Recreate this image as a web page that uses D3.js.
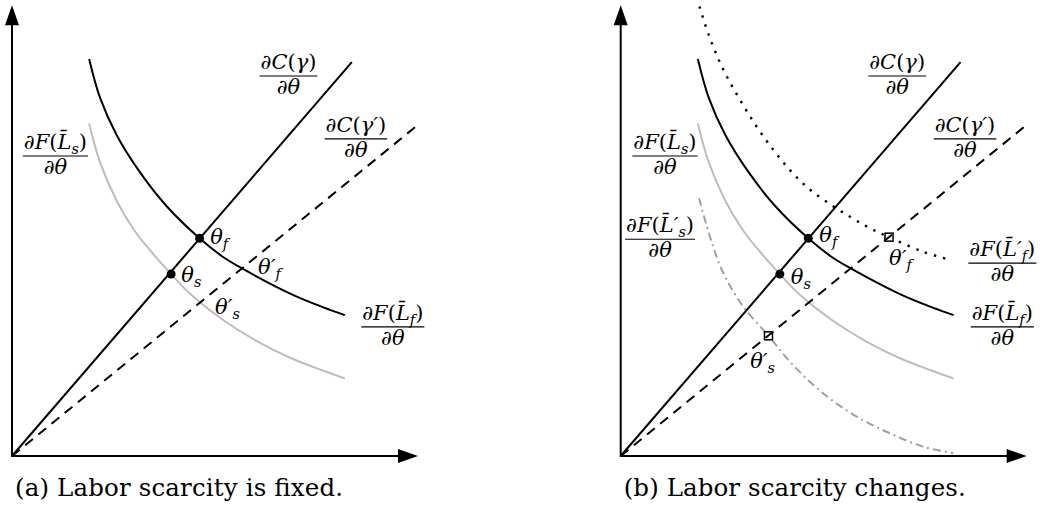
<!DOCTYPE html>
<html>
<head>
<meta charset="utf-8">
<script src="https://cdn.jsdelivr.net/npm/d3@7"></script>
<style>
  body { margin: 0; background: #fff; }
  svg { display: block; }
</style>
</head>
<body>
<svg id="chart" width="1042" height="515"></svg>
<script>
// everything below is in axis units: x runs 0..100, y runs 0..111

const AXIS_X_MAX = 100;
const AXIS_Y_MAX = 111;

// marginal cost lines dC/dtheta (gamma and gamma')
const costLine = [[0, 0], [83.7, 97.0]];
const costLineLow = [[0, 0], [99.8, 81.4]];

// marginal product curves
const fLabor = [[19.0, 97.8], [21.7, 88.2], [25.8, 79.0], [31.5, 69.9], [38.1, 61.5],
  [46.2, 53.6], [52.0, 49.0], [57.0, 46.0], [68.5, 40.0], [76.7, 36.6], [82.0, 34.7]];
const sLabor = [[19.0, 81.9], [21.7, 72.3], [25.8, 62.8], [29.9, 55.9], [33.2, 51.6],
  [39.2, 44.8], [43.8, 40.0], [52.0, 33.5], [60.3, 28.3], [68.5, 24.2], [76.7, 21.0], [82.0, 19.1]];
const fLaborNew = [[19.4, 110.7], [22.0, 102.8], [25.3, 95.1], [29.4, 87.7], [33.5, 81.1],
  [37.6, 75.4], [41.7, 70.4], [45.8, 66.3], [50.7, 62.6], [56.5, 58.9], [61.4, 56.1],
  [66.1, 53.9], [74.5, 50.3], [81.1, 48.3]];
const sLaborNew = [[19.3, 63.5], [22.0, 54.0], [25.3, 45.0], [30.2, 36.8], [36.4, 29.6],
  [41.7, 23.2], [49.9, 15.4], [58.1, 9.7], [66.3, 5.6], [74.5, 2.3], [81.9, 0.7]];

// equilibria
const eqPoints = [[46.2, 53.6], [39.2, 44.8]];
const newEqPoints = [[66.1, 53.9], [36.4, 29.6]];

// theta labels: left / baseline position
const thetaLabelsA = [
  { sub: 'f', prime: false, x: 48.8, y: 52.2 },
  { sub: 's', prime: false, x: 41.7, y: 42.9 },
  { sub: 'f', prime: true, x: 60.6, y: 44.8 },
  { sub: 's', prime: true, x: 50.0, y: 35.0 }
];
const thetaLabelsB = [
  { sub: 'f', prime: false, x: 48.9, y: 52.7 },
  { sub: 's', prime: false, x: 41.9, y: 42.4 },
  { sub: 'f', prime: true, x: 66.1, y: 47.0 },
  { sub: 's', prime: true, x: 31.9, y: 21.7 }
];

// fraction labels: centre of the bar
const fracLabelsA = [
  { num: 'C', x: 68.1, y: 93.6 },
  { num: 'Cp', x: 84.7, y: 78.1 },
  { num: 'Ls', x: 10.7, y: 73.9 },
  { num: 'Lf', x: 93.8, y: 31.8 }
];
const fracLabelsB = [
  { num: 'C', x: 68.1, y: 93.6 },
  { num: 'Cp', x: 84.8, y: 78.1 },
  { num: 'Ls', x: 10.9, y: 73.9 },
  { num: 'Lsp', x: 9.7, y: 53.4 },
  { num: 'Lfp', x: 94.0, y: 47.5 },
  { num: 'Lf', x: 94.0, y: 31.8 }
];

const captions = ['(a) Labor scarcity is fixed.', '(b) Labor scarcity changes.'];

const SERIF = '"DejaVu Serif", serif';
const FONT = 21;
const SMALL = 14.5;
const BAR = 'L\u0304';

const numerators = {
  C: [{ t: '∂' }, { t: 'C', it: true }, { t: '(' }, { t: 'γ', it: true }, { t: ')' }],
  Cp: [{ t: '∂' }, { t: 'C', it: true }, { t: '(' }, { t: 'γ′', it: true }, { t: ')' }],
  Ls: [{ t: '∂' }, { t: 'F', it: true }, { t: '(' }, { t: BAR, it: true }, { t: 's', it: true, small: true, off: 5 }, { t: ')' }],
  Lf: [{ t: '∂' }, { t: 'F', it: true }, { t: '(' }, { t: BAR, it: true }, { t: 'f', it: true, small: true, off: 5 }, { t: ')' }],
  Lsp: [{ t: '∂' }, { t: 'F', it: true }, { t: '(' }, { t: BAR + '′', it: true }, { t: 's', it: true, small: true, off: 5 }, { t: ')' }],
  Lfp: [{ t: '∂' }, { t: 'F', it: true }, { t: '(' }, { t: BAR + '′', it: true }, { t: 'f', it: true, small: true, off: 5 }, { t: ')' }]
};

const x = d3.scaleLinear().domain([0, 100]).range([0, 406]);
const y = d3.scaleLinear().domain([0, 111]).range([0, -450.7]);

const svg = d3.select('#chart');

function addMath (text, parts) {
  let cur = 0;
  parts.forEach(p => {
    const off = p.off || 0;
    const ts = text.append('tspan')
      .text(p.t)
      .attr('dy', off - cur)
      .attr('font-style', p.it ? 'italic' : 'normal')
      .attr('font-size', p.small ? SMALL : FONT);
    if (p.dx) ts.attr('dx', p.dx);
    cur = off;
  });
}

function drawFraction (g, f) {
  const cx = x(f.x);
  const ly = y(f.y);
  const num = g.append('text').attr('x', cx).attr('y', ly - 7)
    .attr('text-anchor', 'middle').attr('font-family', SERIF);
  addMath(num, numerators[f.num]);
  const den = g.append('text').attr('x', cx).attr('y', ly + 18)
    .attr('text-anchor', 'middle').attr('font-family', SERIF);
  addMath(den, [{ t: '∂' }, { t: 'θ', it: true }]);
  const w = Math.max(num.node().getComputedTextLength(), den.node().getComputedTextLength());
  g.append('line')
    .attr('x1', cx - w / 2 - 1).attr('x2', cx + w / 2 + 1)
    .attr('y1', ly).attr('y2', ly)
    .attr('stroke', '#000').attr('stroke-width', 1.1);
}

function drawTheta (g, l) {
  const t = g.append('text').attr('x', x(l.x)).attr('y', y(l.y)).attr('font-family', SERIF);
  const parts = [{ t: l.prime ? 'θ′' : 'θ', it: true }];
  parts.push({ t: l.sub, it: true, small: true, off: 5 });
  addMath(t, parts);
}

const line = d3.line().x(d => x(d[0])).y(d => y(d[1]));
const curve = d3.line().x(d => x(d[0])).y(d => y(d[1])).curve(d3.curveCatmullRom.alpha(0.5));

function drawAxes (g) {
  const xTip = x(AXIS_X_MAX);
  const yTip = y(AXIS_Y_MAX);
  g.append('path')
    .attr('d', `M0,${yTip + 18}V0H${xTip - 18}`)
    .attr('fill', 'none').attr('stroke', '#000').attr('stroke-width', 2);
  g.append('path')
    .attr('d', `M0,${yTip}L-7,${yTip + 20}L7,${yTip + 20}Z`)
    .attr('fill', '#000');
  g.append('path')
    .attr('d', `M${xTip},0L${xTip - 20},-7L${xTip - 20},7Z`)
    .attr('fill', '#000');
}

function drawPanel (ox, changed, thetaLabels, fracLabels, caption, capWidth) {
  const g = svg.append('g').attr('transform', `translate(${ox},456)`);
  drawAxes(g);

  if (changed) {
    g.append('path').attr('d', curve(sLaborNew))
      .attr('fill', 'none').attr('stroke', '#a0a0a0').attr('stroke-width', 2)
      .attr('stroke-dasharray', '8,4,2,4');
  }
  g.append('path').attr('d', curve(sLabor))
    .attr('fill', 'none').attr('stroke', '#bdbdbd').attr('stroke-width', 2);
  if (changed) {
    g.append('path').attr('d', curve(fLaborNew))
      .attr('fill', 'none').attr('stroke', '#000').attr('stroke-width', 2.4)
      .attr('stroke-dasharray', '2.4,7');
  }
  g.append('path').attr('d', curve(fLabor))
    .attr('fill', 'none').attr('stroke', '#000').attr('stroke-width', 2);
  g.append('path').attr('d', line(costLine))
    .attr('fill', 'none').attr('stroke', '#000').attr('stroke-width', 2);

  if (changed) {
    g.selectAll('rect.neq').data(newEqPoints).enter().append('rect')
      .attr('class', 'neq')
      .attr('x', d => x(d[0]) - 4).attr('y', d => y(d[1]) - 4)
      .attr('width', 8).attr('height', 8)
      .attr('fill', '#fff').attr('stroke', '#000').attr('stroke-width', 1.5);
  }
  g.append('path').attr('d', line(costLineLow))
    .attr('fill', 'none').attr('stroke', '#000').attr('stroke-width', 2)
    .attr('stroke-dasharray', '10,7');

  g.selectAll('circle.eq').data(eqPoints).enter().append('circle')
    .attr('class', 'eq')
    .attr('cx', d => x(d[0])).attr('cy', d => y(d[1]))
    .attr('r', 4.5).attr('fill', '#000');

  thetaLabels.forEach(l => drawTheta(g, l));
  fracLabels.forEach(f => drawFraction(g, f));

  svg.append('text')
    .attr('x', ox + 3).attr('y', 496)
    .attr('font-family', SERIF).attr('font-size', 24.5)
    .attr('textLength', capWidth).attr('lengthAdjust', 'spacing')
    .text(caption);
}

drawPanel(12, false, thetaLabelsA, fracLabelsA, captions[0], 328);
drawPanel(620.7, true, thetaLabelsB, fracLabelsB, captions[1], 342);
</script>
</body>
</html>
